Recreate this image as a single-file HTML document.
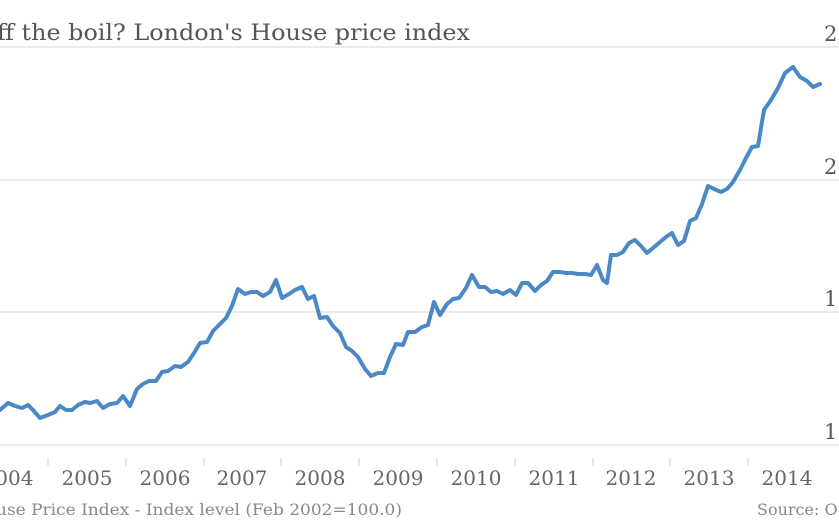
<!DOCTYPE html>
<html><head><meta charset="utf-8"><style>
html,body{margin:0;padding:0;background:#fff;}
body{width:839px;height:523px;overflow:hidden;position:relative;}
svg{position:absolute;left:0;top:0;}
text{font-family:"DejaVu Serif","Liberation Serif",serif;}
</style></head><body>
<svg width="839" height="523" viewBox="0 0 839 523">
<text x="-3" y="40" font-size="22" fill="#555" textLength="473" lengthAdjust="spacingAndGlyphs">ff the boil? London's House price index</text>
<g stroke="#e3e3e3" stroke-width="1.5">
<line x1="0" y1="47" x2="839" y2="47"/>
<line x1="0" y1="180" x2="839" y2="180"/>
<line x1="0" y1="312" x2="839" y2="312"/>
<line x1="0" y1="445" x2="839" y2="445"/>
</g>
<g fill="#555" font-size="21">
<text x="824" y="41">2</text>
<text x="824" y="174">2</text>
<text x="824" y="306">1</text>
<text x="824" y="439">1</text>
</g>
<g stroke="#e0e0e0" stroke-width="1.5">
<line x1="48" y1="458" x2="48" y2="466"/><line x1="126" y1="458" x2="126" y2="466"/>
<line x1="204" y1="458" x2="204" y2="466"/><line x1="281" y1="458" x2="281" y2="466"/>
<line x1="359" y1="458" x2="359" y2="466"/><line x1="437" y1="458" x2="437" y2="466"/>
<line x1="515" y1="458" x2="515" y2="466"/><line x1="593" y1="458" x2="593" y2="466"/>
<line x1="670" y1="458" x2="670" y2="466"/><line x1="748" y1="458" x2="748" y2="466"/>
</g>
<g fill="#666" font-size="20" text-anchor="middle">
<text x="8" y="485">2004</text><text x="87" y="485">2005</text><text x="165" y="485">2006</text>
<text x="242" y="485">2007</text><text x="320" y="485">2008</text><text x="398" y="485">2009</text>
<text x="476" y="485">2010</text><text x="554" y="485">2011</text><text x="631" y="485">2012</text>
<text x="709" y="485">2013</text><text x="787" y="485">2014</text>
</g>
<text x="-4" y="515" font-size="16" fill="#888" textLength="406" lengthAdjust="spacingAndGlyphs">use Price Index - Index level (Feb 2002=100.0)</text>
<text x="757" y="515" font-size="16" fill="#888">Source: O</text>
<polyline fill="none" stroke="#4a88c6" stroke-width="4" stroke-linejoin="round" stroke-linecap="round" points="0,410 8,403 15,406 22,408 28,405 33,410 40,418 48,415 55,412 60,406 66,410 72,410 78,405 85,402 90,403 97,401 103,408 110,404 117,403 123,396 130,406 137,389 143,384 149,381 156,381 162,372 168,371 175,366 181,367 188,362 194,353 200,343 207,342 213,331 219,325 226,318 232,306 238,289 245,294 251,292 257,292 263,296 270,292 276,280 282,298 289,294 295,290 302,287 308,299 314,296 320,318 327,317 333,326 340,333 346,347 352,351 358,357 365,369 371,376 378,373 384,373 390,357 396,344 403,345 408,332 415,332 422,327 428,325 434,302 440,315 447,304 453,299 459,298 466,288 472,275 479,287 485,287 491,292 497,291 503,294 510,290 516,295 522,283 528,283 535,291 541,285 547,281 553,272 560,272 566,273 572,273 578,274 585,274 591,275 597,265 603,280 607,283 611,255 617,255 623,252 629,243 635,240 641,246 647,253 653,248 660,242 666,237 672,233 678,245 684,241 690,221 696,218 702,204 708,186 714,189 721,192 727,189 733,182 740,170 746,158 752,147 758,146 764,110 771,100 778,88 785,73 793,67 800,77 807,81 813,87 820,84"/>
</svg>
</body></html>
